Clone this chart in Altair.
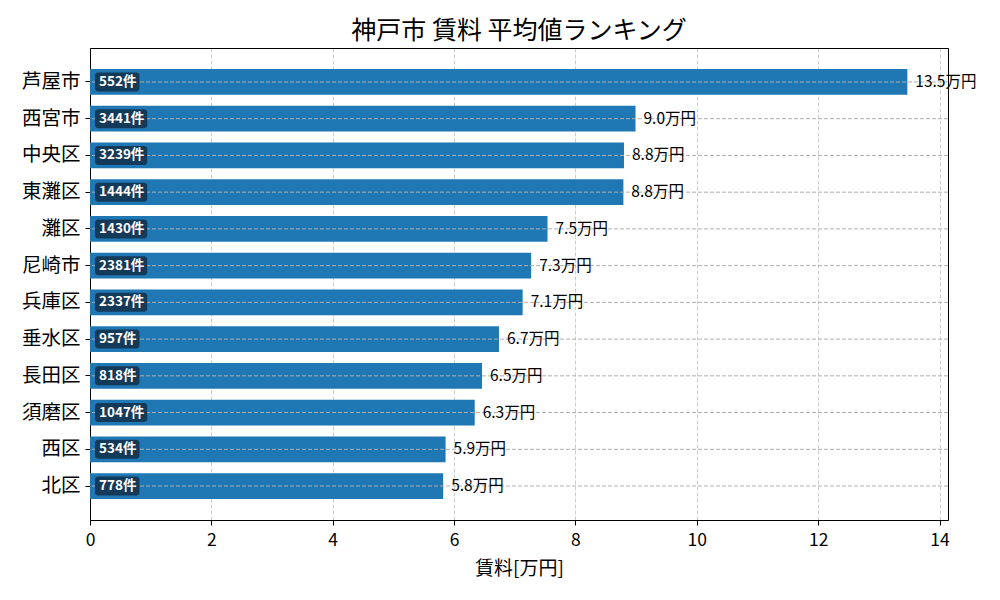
import altair as alt
import pandas as pd

areas = ["芦屋市", "西宮市", "中央区", "東灘区", "灘区", "尼崎市", "兵庫区", "垂水区", "長田区", "須磨区", "西区", "北区"]
rents = [13.47, 8.99, 8.80, 8.79, 7.54, 7.27, 7.13, 6.74, 6.46, 6.34, 5.86, 5.82]
counts = [552, 3441, 3239, 1444, 1430, 2381, 2337, 957, 818, 1047, 534, 778]

df = pd.DataFrame({"area": areas, "rent": rents, "count": counts})

FONT = "Noto Sans CJK JP"
W, H = 858, 472
XMAX = 14.14
PXU = W / XMAX

y_scale = alt.Scale(paddingInner=0.3, paddingOuter=0.575)
x_scale = alt.Scale(domain=[0, XMAX], nice=False, zero=True)

y_axis = alt.Axis(title=None, labelFontSize=19.5, labelFont=FONT, labelColor="black",
                  tickColor="black", tickSize=5, labelPadding=5,
                  domain=True, domainColor="black", grid=False)
x_axis = alt.Axis(title="賃料[万円]", values=[0, 2, 4, 6, 8, 10, 12, 14], format="d",
                  labelFontSize=17.5, labelFont=FONT, labelColor="black", labelFlush=False,
                  titleFontSize=19, titleFont=FONT, titleFontWeight="normal", titleColor="black",
                  titlePadding=11, tickColor="black", tickSize=5, labelPadding=6,
                  domain=True, domainColor="black",
                  grid=True, gridColor="#cccccc", gridDash=[4, 2], gridWidth=1)
top_axis = alt.Axis(orient="top", title=None, labels=False, ticks=False, grid=False,
                    domain=True, domainColor="black")
right_axis = alt.Axis(orient="right", title=None, labels=False, ticks=False, grid=False,
                      domain=True, domainColor="black")

base = alt.Chart(df)

bars = base.mark_bar(color="#1f77b4").encode(
    x=alt.X("rent:Q", scale=x_scale, axis=x_axis),
    y=alt.Y("area:N", sort=areas, scale=y_scale, axis=y_axis),
)

frame = base.mark_point(opacity=0).encode(
    x=alt.X("rent:Q", scale=x_scale, axis=top_axis),
    y=alt.Y("area:N", sort=areas, axis=right_axis),
)

hlines = base.mark_rule(color="#b0b0b0", strokeDash=[4, 2], strokeWidth=1).encode(
    y=alt.Y("area:N", sort=areas, axis=None)
)

boxes = base.transform_calculate(
    bstart=f"5/{PXU}",
    bend=f"(5 + 21 + 7.8*length(toString(datum.count)))/{PXU}",
).mark_bar(color="#143a5a", cornerRadius=3, size=19).encode(
    x=alt.X("bstart:Q", scale=x_scale, axis=None),
    x2="bend:Q",
    y=alt.Y("area:N", sort=areas, axis=None),
)

count_text = base.transform_calculate(
    label="toString(datum.count) + '件'", zero="0"
).mark_text(align="left", baseline="middle", dx=9, fontSize=13.5, fontWeight="bold",
            font=FONT, color="white").encode(
    x=alt.X("zero:Q", scale=x_scale, axis=None),
    y=alt.Y("area:N", sort=areas, axis=None),
    text="label:N",
)

val_text = base.transform_calculate(
    label="format(datum.rent, '.1f') + '万円'"
).mark_text(align="left", baseline="middle", dx=8, fontSize=15.5, font=FONT, color="black").encode(
    x=alt.X("rent:Q", scale=x_scale, axis=None),
    y=alt.Y("area:N", sort=areas, axis=None),
    text="label:N",
)

chart = alt.layer(bars, frame, hlines, boxes, count_text, val_text).resolve_axis(
    x="independent", y="independent"
).properties(
    width=W, height=H,
    title=alt.Title("神戸市 賃料 平均値ランキング", fontSize=25, font=FONT, fontWeight="normal",
                    color="black", anchor="middle", offset=4),
    autosize=alt.AutoSizeParams(type="none"),
    padding={"left": 82, "top": 40, "right": 44, "bottom": 72},
).configure_view(strokeWidth=0).configure(font=FONT)

chart.save("out.html", embed_options={"renderer": "svg", "actions": False})
